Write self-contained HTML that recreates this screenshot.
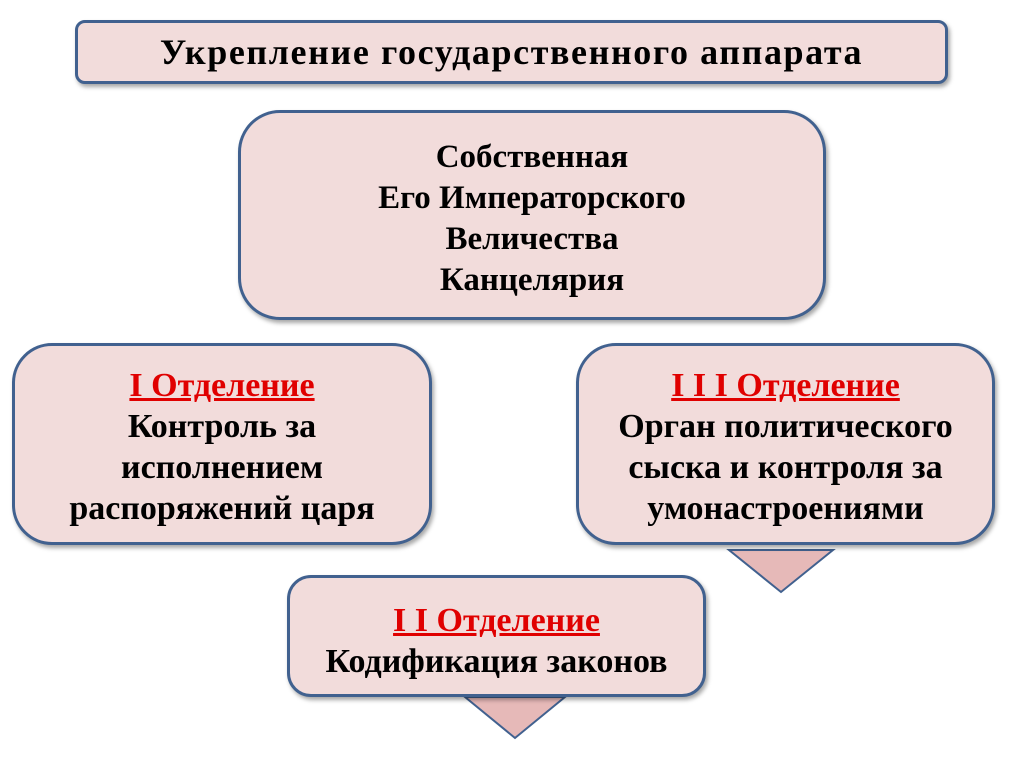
<!DOCTYPE html>
<html><head><meta charset="utf-8"><style>
body{margin:0;width:1024px;height:767px;background:#fff;position:relative;overflow:hidden;font-family:"Liberation Serif",serif;font-weight:bold;}
.b{position:absolute;box-sizing:border-box;background:#f2dcdb;border:3px solid #41618f;box-shadow:2px 3px 4px rgba(0,0,0,0.35);display:flex;flex-direction:column;justify-content:center;align-items:center;text-align:center;color:#000;white-space:nowrap;}
.r{color:#e00000;text-decoration:underline;}
</style></head><body>
<div class="b" style="left:75px;top:20px;width:873px;height:64px;border-radius:10px;font-size:36px;letter-spacing:1.6px;">Укрепление государственного аппарата</div>
<div class="b" style="left:238px;top:110px;width:588px;height:210px;border-radius:42px;font-size:33px;line-height:41px;padding-top:8px;">Собственная<br>Его Императорского<br>Величества<br>Канцелярия</div>
<div class="b" style="left:12px;top:343px;width:420px;height:202px;border-radius:40px;font-size:34px;line-height:41px;padding-top:6px;"><span class="r">I Отделение</span>Контроль за<br>исполнением<br>распоряжений царя</div>
<svg style="position:absolute;left:0;top:0" width="1024" height="767">
<polygon points="729,550 833,550 781,592" fill="#e6b9b8" stroke="#41618f" stroke-width="2"/>
<polygon points="465,697 565,697 515,738" fill="#e6b9b8" stroke="#41618f" stroke-width="2"/>
</svg>
<div class="b" style="left:576px;top:343px;width:419px;height:202px;border-radius:40px;font-size:34px;line-height:41px;padding-top:6px;"><span class="r">I I I Отделение</span>Орган политического<br>сыска и контроля за<br>умонастроениями</div>
<div class="b" style="left:287px;top:575px;width:419px;height:122px;border-radius:24px;font-size:34px;line-height:41px;padding-top:10px;"><span class="r">I I Отделение</span>Кодификация законов</div>
</body></html>
